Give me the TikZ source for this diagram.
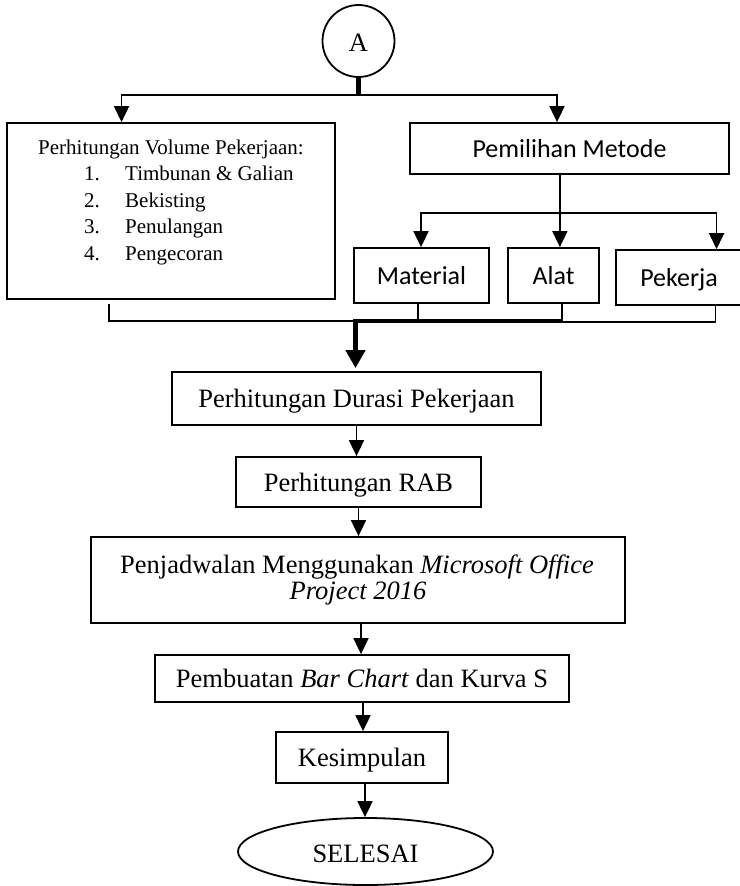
\documentclass[tikz,border=0pt]{standalone}
\usepackage{fontspec}
\setmainfont{Liberation Serif}
\newfontfamily\calibrifam{Carlito}
\usetikzlibrary{arrows.meta,calc,shapes.geometric}
\newcommand\mybigfont{\fontsize{26.5}{30}\selectfont}
\newcommand\mysmallfont{\fontsize{21}{26.5}\selectfont}
\newcommand\mysansfont{\calibrifam\fontsize{26}{30}\selectfont}
\begin{document}
\begin{tikzpicture}[x=1pt,y=-1pt,
  box/.style={draw, line width=1.8pt, inner sep=0pt, align=center, font=\mybigfont, text height=18pt, text depth=0pt},
  sbox/.style={box, font=\mysansfont},
  plain/.style={line width=1.8pt},
  arr/.style={line width=1.8pt, -{Triangle[length=16pt,width=15pt]}},
  thickline/.style={line width=4.5pt},
  thickarr/.style={line width=4.5pt, -{Triangle[length=18pt,width=19pt]}},
  listtext/.style={font=\mysmallfont, inner sep=0pt},
  bigtext/.style={font=\mybigfont, inner sep=0pt}]
\useasboundingbox (0,0) rectangle (739,886);

% nodes
\node[circle, draw, line width=1.8pt, minimum size=72pt, inner sep=0pt, font=\mybigfont, text height=20pt, text depth=0pt] (A) at (358.5,41) {A};

\node[box, minimum width=328pt, minimum height=176pt] (vol) at (171,211) {};
\node[listtext, anchor=base] (voltitle) at (171,154) {Perhitungan Volume Pekerjaan:};
\node[listtext, anchor=base west] (n1) at (84,180) {1.};
\node[listtext, anchor=base west] (t1) at (125,180) {Timbunan \& Galian};
\node[listtext, anchor=base west] (n2) at (84,207) {2.};
\node[listtext, anchor=base west] (t2) at (125,207) {Bekisting};
\node[listtext, anchor=base west] (n3) at (84,233) {3.};
\node[listtext, anchor=base west] (t3) at (125,233) {Penulangan};
\node[listtext, anchor=base west] (n4) at (84,260) {4.};
\node[listtext, anchor=base west] (t4) at (125,260) {Pengecoran};

\node[sbox, minimum width=319pt, minimum height=51pt] (metode) at (569.5,148.5) {Pemilihan Metode};
\node[sbox, minimum width=135pt, minimum height=55pt] (material) at (421.5,275.5) {Material};
\node[sbox, minimum width=91pt, minimum height=55pt] (alat) at (553.5,275.5) {Alat};
\node[sbox, minimum width=126pt, minimum height=55pt] (pekerja) at (679,277.5) {Pekerja};

\node[box, minimum width=369pt, minimum height=53pt] (durasi) at (356.5,398.5) {Perhitungan Durasi Pekerjaan};
\node[box, minimum width=245pt, minimum height=50pt] (rab) at (358.5,482) {Perhitungan RAB};
\node[box, minimum width=534pt, minimum height=86pt] (penj) at (358,580) {};
\node[bigtext, anchor=base] (penj1) at (357,573) {Penjadwalan Menggunakan \textit{Microsoft Office}};
\node[bigtext, anchor=base] (penj2) at (358,599) {\textit{Project 2016}};
\node[box, minimum width=414pt, minimum height=47pt] (bar) at (362,678.5) {Pembuatan \textit{Bar Chart} dan Kurva S};
\node[box, minimum width=172pt, minimum height=51pt] (kes) at (362,757.5) {Kesimpulan};
\node[ellipse, draw, line width=1.8pt, inner sep=0pt, minimum width=255pt, minimum height=67pt, font=\mybigfont, text height=21pt, text depth=0pt] (selesai) at (365.5,851.5) {SELESAI};

% top split
\coordinate (splitA) at ($(A.south)+(0,17)$);
\draw[thickline] (A.south) -- (splitA);
\draw[arr] (splitA) -| ($(vol.north west)!0.35!(vol.north east)$);
\draw[arr] (splitA) -| ($(metode.north west)!0.461!(metode.north east)$);

% method split
\coordinate (mstem) at ($(metode.south west)!0.470!(metode.south east)$);
\coordinate (splitM) at ($(mstem)+(0,38)$);
\draw[plain] (mstem) -- (splitM);
\draw[arr] (splitM) -| ($(material.north)+(-0.5,0)$);
\draw[arr] (splitM) -- (splitM |- alat.north);
\draw[arr] (splitM) -| ($(pekerja.north west)!0.794!(pekerja.north east)$);

% merge
\coordinate (vs) at ($(vol.south west)!0.311!(vol.south east)+(0,4)$);
\coordinate (mj) at ($(durasi.north)+(-1,-50)$);
\coordinate (ms) at ($(material.south)+(-3.5,0)$);
\coordinate (as) at ($(alat.south west)!0.593!(alat.south east)$);
\coordinate (ps) at ($(pekerja.south west)!0.786!(pekerja.south east)$);
\draw[plain] (vs) |- (mj);
\draw[plain] (ms) -- (ms |- mj);
\draw[plain] (ps) |- ($(as |- mj)+(0,1)$);
\draw[plain] (as) -- (as |- mj);
\draw[thickline] ($(mj)+(-2.25,0)$) -- ($(as |- mj)+(0.9,0)$);
\draw[thickarr] (mj) -- ($(durasi.north)+(-1,-3)$);

% sequence
\draw[arr] (durasi.south) -- (durasi.south |- rab.north);
\draw[arr] (rab.south) -- (rab.south |- penj.north);
\coordinate (p1) at ($(penj.south)+(3,0)$);
\draw[arr] (p1) -- (p1 |- bar.north);
\coordinate (b1) at ($(bar.south)+(1,0)$);
\draw[arr] (b1) -- (b1 |- kes.north);
\coordinate (k1) at ($(kes.south)+(3,0)$);
\draw[arr] (k1) -- (k1 |- selesai.north);
\end{tikzpicture}
\end{document}
